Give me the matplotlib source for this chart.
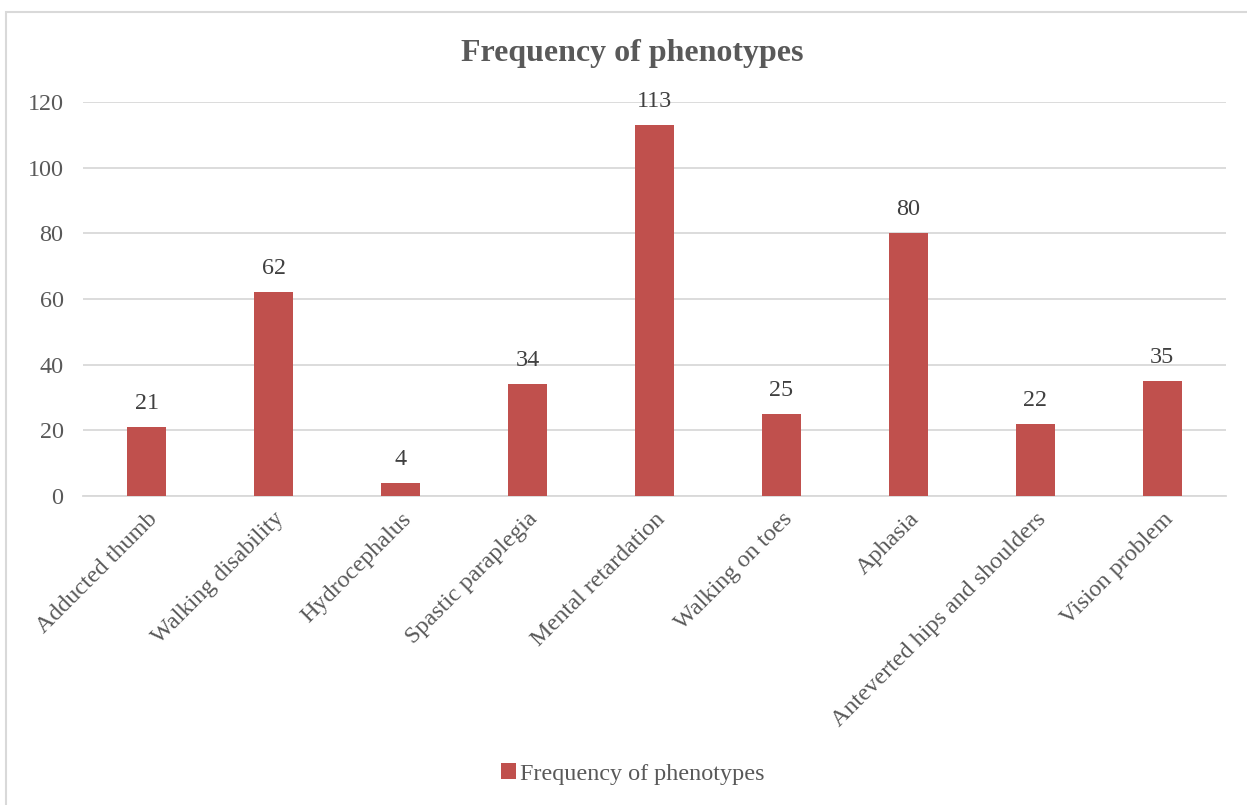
import matplotlib.pyplot as plt
from matplotlib.patches import Rectangle

plt.rcParams['font.family'] = ['Liberation Serif', 'DejaVu Serif']

categories = ['Adducted thumb', 'Walking disability', 'Hydrocephalus', 'Spastic paraplegia',
              'Mental retardation', 'Walking on toes', 'Aphasia',
              'Anteverted hips and shoulders', 'Vision problem']
values = [21, 62, 4, 34, 113, 25, 80, 22, 35]
yticks = [0, 20, 40, 60, 80, 100, 120]

bar_color = '#c0504d'
text_color = '#595959'
grid_color = '#d9d9d9'
fs = 17.4

fig = plt.figure(figsize=(12.47, 8.05), dpi=100)
ax = fig.add_axes([0.0666, 0.3839, 0.9164, 0.4894])

# chart frame
fig.patches.append(Rectangle((6 / 1247, -0.01), 1.05, 1 - 12 / 805 + 0.01,
                             transform=fig.transFigure, fill=False,
                             edgecolor=grid_color, linewidth=1.5))

x = list(range(len(categories)))
bars = ax.bar(x, values, width=0.31, color=bar_color, label='Frequency of phenotypes', zorder=3)
for xi, v in zip(x, values):
    ax.text(xi, v + 4, str(v), ha='center', va='bottom', fontsize=fs, color='#404040')

ax.set_xlim(-0.5, len(categories) - 0.5)
ax.set_ylim(0, 120)
ax.set_yticks(yticks)
ax.tick_params(axis='y', length=0, labelsize=fs, labelcolor=text_color, pad=14)
ax.tick_params(axis='x', length=0, labelsize=fs, labelcolor=text_color, pad=9)
ax.set_xticks(x)
ax.set_xticklabels(categories, rotation=45, ha='right', rotation_mode='anchor')
ax.grid(axis='y', color=grid_color, linewidth=1.3, zorder=0)
for s in ['top', 'right', 'left']:
    ax.spines[s].set_visible(False)
ax.spines['bottom'].set_color(grid_color)
ax.spines['bottom'].set_linewidth(1.3)

fig.text(632 / 1247, 1 - 53 / 805, 'Frequency of phenotypes', ha='center', va='center',
         fontsize=23, fontweight='bold', color=text_color)

fig.legend(handles=[bars], labels=['Frequency of phenotypes'], loc='center',
           bbox_to_anchor=(633 / 1247, 1 - 774 / 805), frameon=False,
           fontsize=fs, labelcolor=text_color, handlelength=0.6, handleheight=0.6,
           handletextpad=0.2)

fig.savefig('out.png', dpi=100)
